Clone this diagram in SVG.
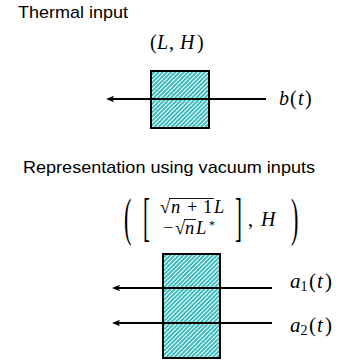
<svg xmlns="http://www.w3.org/2000/svg" width="340" height="360" viewBox="0 0 340 360">
<defs>
<pattern id="hatch" patternUnits="userSpaceOnUse" width="3" height="3" patternTransform="rotate(45)">
<rect width="3" height="3" fill="#ffffff"/>
<rect width="2" height="3" fill="#3cbdbd"/>
</pattern>
<marker id="ah" viewBox="0 0 10 8" refX="5" refY="4" markerWidth="4" markerHeight="3.2" orient="auto" markerUnits="strokeWidth">
<path d="M0,0 L10,4 L0,8 L2,4 Z" fill="#000"/>
</marker>
<style>
.hd{font-family:"Liberation Sans",Arial,sans-serif;font-size:17px;fill:#000}
.m{font-family:"Liberation Serif","Times New Roman",serif;font-size:20px;fill:#000}
.r{font-size:18.5px}
.i{font-style:italic}
.box{fill:url(#hatch);stroke:#000;stroke-width:2}
.ar{stroke:#000;stroke-width:2;fill:none;marker-end:url(#ah)}
.ov{stroke:#000;stroke-width:0.9}
</style>
</defs>
<text class="hd" x="18" y="17.5" textLength="110" lengthAdjust="spacingAndGlyphs">Thermal input</text>
<text class="hd" x="23" y="173" textLength="292" lengthAdjust="spacingAndGlyphs">Representation using vacuum inputs</text>

<g id="node-thermal">
<rect class="box" x="151" y="71" width="58" height="57"/>
<text class="m" x="150" y="49">(<tspan class="i" x="157">L</tspan><tspan x="169">,</tspan><tspan class="i" x="180">H</tspan><tspan x="197">)</tspan></text>
</g>

<g id="node-vacuum">
<rect class="box" x="163" y="254" width="57" height="104"/>
<text class="m" transform="translate(124,235) scale(0.42,1)" style="font-size:53px">(</text>
<text class="m" transform="translate(143,235) scale(0.4,1)" style="font-size:52px">[</text>
<line class="ov" x1="169" y1="198.5" x2="214" y2="198.5"/>
<text class="m r" x="160" y="213">√<tspan class="i" x="171">n</tspan><tspan x="187">+</tspan><tspan x="203">1</tspan><tspan class="i" x="214">L</tspan></text>
<line class="ov" x1="184" y1="219.5" x2="196" y2="219.5"/>
<text class="m r" x="163" y="234">−<tspan x="175">√</tspan><tspan class="i" x="185">n</tspan><tspan class="i" x="196">L</tspan><tspan x="209" y="229" style="font-size:12px">*</tspan></text>
<text class="m" transform="translate(235,235) scale(0.4,1)" style="font-size:52px">]</text>
<text class="m" x="248" y="226">,<tspan class="i" x="261">H</tspan></text>
<text class="m" transform="translate(291,235) scale(0.42,1)" style="font-size:53px">)</text>
</g>

<g id="labels">
<text class="m" x="279" y="105"><tspan class="i">b</tspan><tspan x="290">(</tspan><tspan class="i" x="298">t</tspan><tspan x="305">)</tspan></text>
<text class="m" x="290" y="288" style="font-size:21px"><tspan class="i">a</tspan><tspan style="font-size:14px" dy="3">1</tspan><tspan dy="-3" x="309">(</tspan><tspan class="i" x="317">t</tspan><tspan x="325">)</tspan></text>
<text class="m" x="290" y="332" style="font-size:21px"><tspan class="i">a</tspan><tspan style="font-size:14px" dy="3">2</tspan><tspan dy="-3" x="309">(</tspan><tspan class="i" x="317">t</tspan><tspan x="325">)</tspan></text>
</g>

<g id="connectors">
<line class="ar" x1="266" y1="99" x2="110" y2="99"/>
<line class="ar" x1="272" y1="288" x2="116" y2="288"/>
<line class="ar" x1="272" y1="323" x2="116" y2="323"/>
</g>
</svg>
